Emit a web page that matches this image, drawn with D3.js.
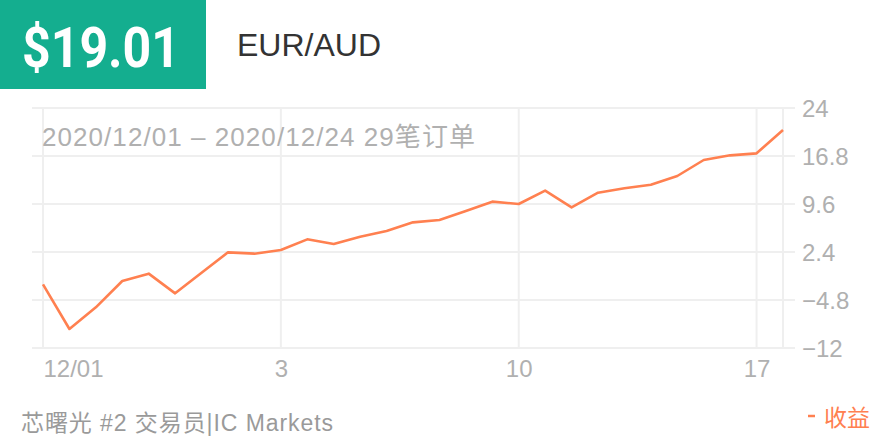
<!DOCTYPE html>
<html>
<head>
<meta charset="utf-8">
<script src="https://cdn.jsdelivr.net/npm/d3@7"></script>
<style>
html,body{margin:0;padding:0;background:#fff;}
svg{display:block;}
text{font-family:"Liberation Sans","Noto Sans CJK SC",sans-serif;}
</style>
</head>
<body>
<svg id="c" width="880" height="440"></svg>
<script>
const profitValues = [-2.45,-9.15,-5.9,-1.95,-0.85,-3.8,-0.7,2.35,2.15,2.7,
  4.3,3.6,4.7,5.55,6.85,7.2,8.55,9.95,9.6,11.6,
  9.1,11.3,11.95,12.5,13.8,16.2,16.9,17.2,20.7];
const xTickIndex = [0, 9, 18, 27];
const xTickLabels = ["12/01", "3", "10", "17"];
const yTicks = [-12, -4.8, 2.4, 9.6, 16.8, 24];
const yTickLabels = ["\u221212", "\u22124.8", "2.4", "9.6", "16.8", "24"];
const totalLabel = "$19.01";
const symbolLabel = "EUR/AUD";
const subtitle = "2020/12/01 \u2013 2020/12/24 29笔订单";
const footer = "芯曙光 #2 交易员|IC Markets";
const legendLabel = "收益";

const svg = d3.select("#c");
const lineColor = "#ff8050";
const gridColor = "#efefef";

const x = d3.scaleLinear().domain([0, profitValues.length - 1]).range([43, 783]);
const y = d3.scaleLinear().domain([-12, 24]).range([348, 108]);

// header
svg.append("rect").attr("x", 0).attr("y", 0).attr("width", 206).attr("height", 89).attr("fill", "#14ae8f");
svg.append("text").attr("x", 22).attr("y", 67).attr("fill", "#fff")
  .attr("font-size", 56).attr("font-weight", "bold")
  .attr("textLength", 158).attr("lengthAdjust", "spacingAndGlyphs")
  .style("font-family", "'Roboto','Liberation Sans',sans-serif").text(totalLabel);
svg.append("text").attr("x", 237).attr("y", 56).attr("fill", "#333")
  .attr("font-size", 32).text(symbolLabel);

// horizontal grid + y axis labels
const yAxis = d3.axisRight(y).tickValues(yTicks)
  .tickSize(0).tickFormat((d, i) => yTickLabels[i]);
const gy = svg.append("g").attr("transform", "translate(802,0)").call(yAxis);
gy.select(".domain").remove();
gy.selectAll("text").attr("fill", "#b0b0b0").attr("font-size", 24).attr("x", 0).attr("dy", "0.35em")
  .style("font-family", "'Liberation Sans',sans-serif");

svg.append("g").selectAll("line").data(yTicks).join("line")
  .attr("x1", 32).attr("x2", 795)
  .attr("y1", d => y(d)).attr("y2", d => y(d))
  .attr("stroke", gridColor).attr("stroke-width", 2);

// vertical grid
const vIdx = xTickIndex.concat([profitValues.length - 1]);
svg.append("g").selectAll("line").data(vIdx).join("line")
  .attr("x1", d => x(d)).attr("x2", d => x(d))
  .attr("y1", y(24)).attr("y2", y(-12))
  .attr("stroke", gridColor).attr("stroke-width", 2);

// x labels
const xAxis = d3.axisBottom(x).tickValues(xTickIndex).tickSize(0)
  .tickFormat((d, i) => xTickLabels[i]);
const gx = svg.append("g").attr("transform", "translate(0,359)").call(xAxis);
gx.select(".domain").remove();
gx.selectAll("text").attr("fill", "#b0b0b0").attr("font-size", 24).attr("y", 0).attr("dy", "0.75em")
  .style("font-family", "'Liberation Sans',sans-serif")
  .attr("text-anchor", (d, i) => i === 0 ? "start" : "middle");

// subtitle
svg.append("text").attr("x", 42).attr("y", 146).attr("fill", "#b0b0b0")
  .attr("font-size", 26).attr("textLength", 433).attr("lengthAdjust", "spacing")
  .text(subtitle);

// line
const line = d3.line().x((d, i) => x(i)).y(d => y(d));
svg.append("path").datum(profitValues).attr("d", line)
  .attr("fill", "none").attr("stroke", lineColor).attr("stroke-width", 2.6)
  .attr("stroke-linejoin", "round");

// footer
svg.append("text").attr("x", 21).attr("y", 431).attr("fill", "#9a9a9a")
  .attr("font-size", 23).attr("textLength", 312).attr("lengthAdjust", "spacing")
  .text(footer);
svg.append("line").attr("x1", 808).attr("x2", 815).attr("y1", 416).attr("y2", 416)
  .attr("stroke", lineColor).attr("stroke-width", 2.5);
svg.append("text").attr("x", 824).attr("y", 426).attr("fill", lineColor)
  .attr("font-size", 23).text(legendLabel);
</script>
</body>
</html>
